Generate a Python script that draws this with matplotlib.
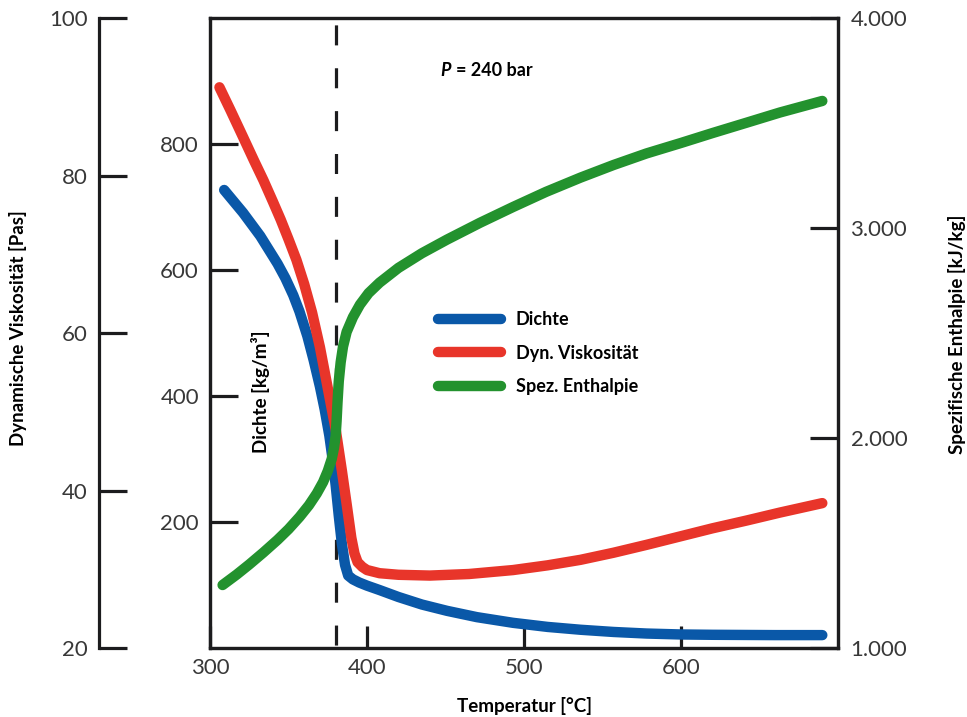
import matplotlib.pyplot as plt

plt.rcParams['font.family'] = ['Lato', 'DejaVu Sans']

# data (temperature in °C)
temp_dichte = [309, 321, 332, 343, 348, 353, 357, 362, 366, 370, 373, 376, 378, 380, 382,
               384, 386, 388, 391, 395, 400, 408, 420, 435, 451, 470, 493, 515, 536, 557,
               578, 600, 620, 660, 690]
dichte = [727, 691, 654, 610, 587, 560, 534, 495, 457, 415, 379, 337, 301, 259, 210,
          165, 132, 115, 109, 104, 99, 92, 81, 69, 59, 49, 40, 33.5, 29, 25.5,
          23, 21.5, 21, 20.5, 20.5]

temp_visk = [306, 313, 321, 328, 334, 340, 345, 350, 355, 360, 365, 370, 375, 380, 384,
             387, 390, 392, 394, 397, 400, 408, 420, 440, 465, 493, 515, 536, 557, 578,
             600, 620, 642, 663, 690]
viskositaet = [91.2, 88.3, 84.9, 81.9, 79.4, 76.7, 74.4, 71.9, 69.3, 66.2, 62.6, 58.2, 53.0,
               47.8, 42.5, 38.3, 34.0, 32.0, 30.9, 30.3, 29.9, 29.5, 29.3, 29.2, 29.4, 29.9,
               30.5, 31.2, 32.1, 33.1, 34.2, 35.2, 36.2, 37.2, 38.4]

temp_enth = [308, 317, 325, 334, 343, 350, 357, 363, 368, 372, 375, 377.5, 379, 380, 380.6,
             381.2, 382, 383.2, 384.7, 387, 391, 395.5, 401, 408, 420, 435, 451, 472, 493,
             514, 536, 557, 578, 600, 620, 642, 663, 690]
enthalpie = [1300, 1350, 1398, 1455, 1515, 1566, 1624, 1680, 1736, 1790, 1843, 1900, 1955,
             2010, 2080, 2170, 2270, 2360, 2435, 2505, 2575, 2635, 2690, 2740, 2810, 2880,
             2945, 3025, 3100, 3172, 3240, 3300, 3355, 3405, 3452, 3502, 3550, 3605]

x_ticks = [300, 400, 500, 600]
dichte_ticks = [200, 400, 600, 800]
visk_ticks = [20, 40, 60, 80, 100]
enth_ticks = [1000, 2000, 3000, 4000]
enth_labels = ["1.000", "2.000", "3.000", "4.000"]

blue = "#0a58a8"
red = "#e8352a"
green = "#23922e"
dark = "#1c1c1e"
tick_col = "#383838"

bold = dict(family=['Lato', 'DejaVu Sans'], weight='bold', size=13.5)
bold_small = dict(family=['Lato', 'DejaVu Sans'], weight='bold', size=13)
lw_curve = 7.5
lw_axis = 2.3

fig = plt.figure(figsize=(9.67, 7.17), dpi=100)
ax = fig.add_axes([0.2172, 0.0962, 0.6494, 0.8787])
ax_v = ax.twinx()
ax_h = ax.twinx()

# dashed line at the critical temperature
ax.axvline(380, color=dark, lw=lw_axis, linestyle=(12.5, (6.26, 7.16)), zorder=1)

l1, = ax.plot(temp_dichte, dichte, color=blue, lw=lw_curve, solid_capstyle='round',
              solid_joinstyle='round', label="Dichte", zorder=3)
l2, = ax_v.plot(temp_visk, viskositaet, color=red, lw=lw_curve, solid_capstyle='round',
                solid_joinstyle='round', label="Dyn. Viskosität")
l3, = ax_h.plot(temp_enth, enthalpie, color=green, lw=lw_curve, solid_capstyle='round',
                solid_joinstyle='round', label="Spez. Enthalpie")

ax.set_xlim(300, 700)
ax.set_ylim(0, 1000)
ax_v.set_ylim(20, 100)
ax_h.set_ylim(1000, 4000)

ax.set_xticks(x_ticks)
ax.set_yticks(dichte_ticks)
ax_v.set_yticks(visk_ticks)
ax_h.set_yticks(enth_ticks)
ax_h.set_yticklabels(enth_labels)

for a in (ax, ax_v, ax_h):
    for s in a.spines.values():
        s.set_linewidth(lw_axis)
        s.set_color(dark)

ax.tick_params(axis='x', direction='in', length=16, width=lw_axis, color=dark,
               labelsize=16, pad=7, labelcolor=tick_col)
ax.tick_params(axis='y', direction='in', length=20, width=lw_axis, color=dark,
               labelsize=16, pad=8, labelcolor=tick_col)

# viscosity axis on a separate spine further left
ax_v.spines['left'].set_position(('axes', -0.177))
ax_v.spines['left'].set_visible(True)
ax_v.spines['right'].set_visible(False)
ax_v.spines['top'].set_visible(False)
ax_v.spines['bottom'].set_visible(False)
ax_v.yaxis.set_ticks_position('left')
ax_v.yaxis.set_label_position('left')
ax_v.tick_params(axis='y', direction='in', length=20, width=lw_axis, color=dark,
                 labelsize=16, pad=8, labelcolor=tick_col)

ax_h.tick_params(axis='y', direction='in', length=20, width=lw_axis, color=dark,
                 labelsize=16, pad=9, labelcolor=tick_col)

ax.set_xlabel("Temperatur [°C]", **bold)
ax.xaxis.set_label_coords(0.5, -0.077)
ax.set_ylabel("Dichte [kg/m³]", **bold)
ax.yaxis.set_label_coords(0.096, 0.406)
ax_v.set_ylabel("Dynamische Viskosität [Pas]", **bold)
ax_v.yaxis.set_label_coords(-0.291, 0.508)
ax_h.set_ylabel("Spezifische Enthalpie [kJ/kg]", **bold)
ax_h.yaxis.set_label_coords(1.175, 0.498)

ax_h.text(0.366, 0.917, "P", transform=ax.transAxes, ha='left', va='center',
          style='italic', **bold_small)
ax_h.text(0.391, 0.917, "= 240 bar", transform=ax.transAxes, ha='left', va='center',
          **bold_small)

leg = ax_h.legend(handles=[l1, l2, l3], loc='center left', bbox_to_anchor=(0.337, 0.468),
                  frameon=False, handlelength=3.5, handletextpad=0.8, labelspacing=0.9,
                  prop=bold_small)
for h in leg.get_lines():
    h.set_solid_capstyle('round')

fig.savefig("out.png", dpi=100)
